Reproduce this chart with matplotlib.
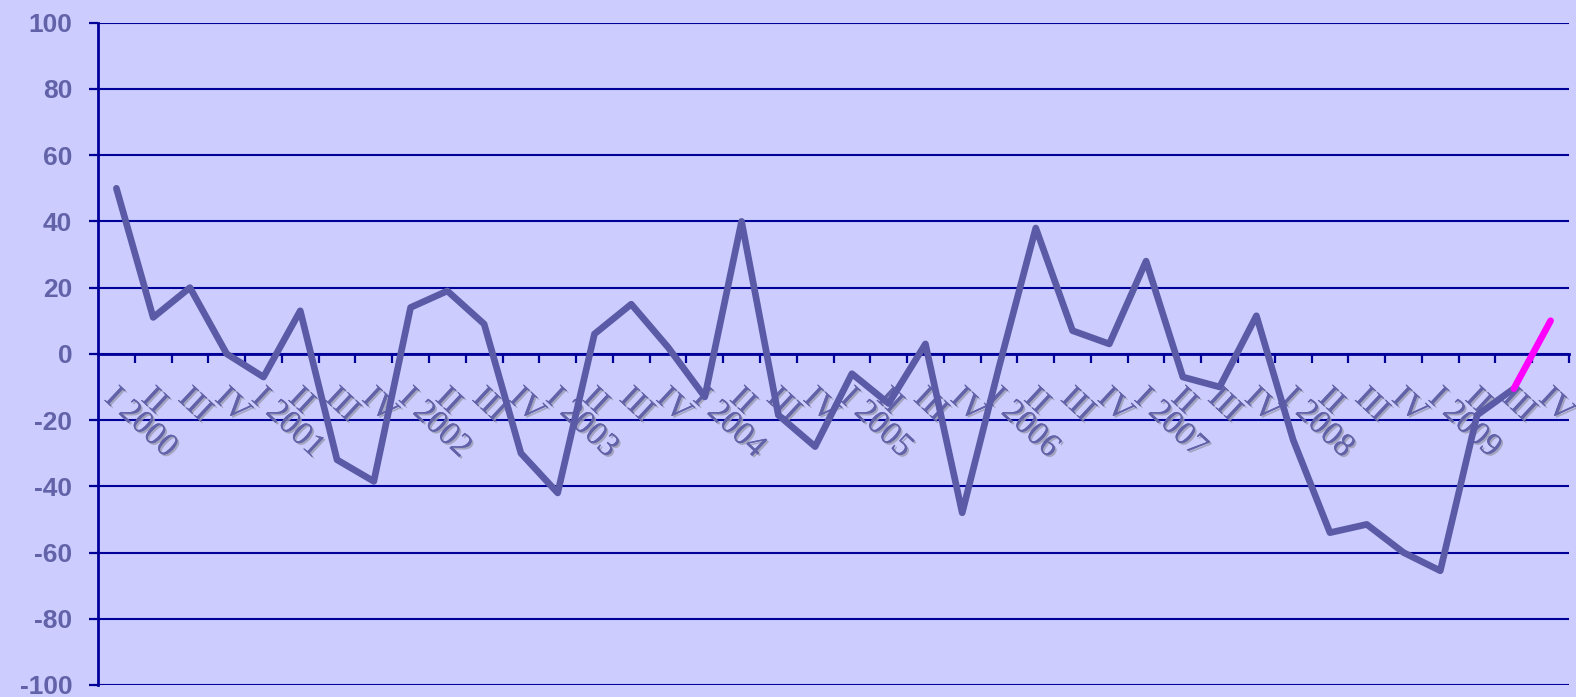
import numpy as np
import matplotlib.pyplot as plt
import matplotlib.patheffects as pe

plt.rcParams['axes.unicode_minus'] = False

# Datos trimestrales 2000-2009
years = [str(y) for y in range(2000, 2010)]
quarters = ['I', 'II', 'III', 'IV']
labels = [q + (' ' + y if q == 'I' else '') for y in years for q in quarters]

values = [50, 11, 20, 0,
          -7, 13, -32, -38.5,
          14, 19, 9, -30,
          -42, 6, 15, 2,
          -13, 40, -18.5, -28,
          -6, -15, 3, -48,
          -4, 38, 7, 3,
          28, -7, -10, 11.5,
          -26, -54, -51.5, -60,
          -65.5, -18.5, -10.5, 10]

bg = '#ccccff'
navy = '#000099'
linecol = '#5a5aa6'
txtcol = '#6262a8'

fig = plt.figure(figsize=(15.76, 6.97), dpi=100, facecolor=bg)
ax = fig.add_axes([98/1576, 12/697, 1471/1576, 662.3/697], facecolor=bg)

x = np.arange(len(values))
ax.plot(x[:-1], values[:-1], color=linecol, lw=4.8, solid_joinstyle='round', solid_capstyle='round', zorder=3)
ax.plot(x[-2:], values[-2:], color='#ff00ff', lw=4.8, solid_capstyle='round', zorder=4)

ax.set_xlim(-0.5, len(values) - 0.5)
ax.set_ylim(-100, 100)
ax.set_yticks(np.arange(-100, 101, 20))
ax.yaxis.grid(True, color=navy, lw=1.5)
ax.set_axisbelow(True)

for s in ['top', 'right']:
    ax.spines[s].set_visible(False)
ax.spines['left'].set_color(navy)
ax.spines['left'].set_linewidth(2)
ax.spines['bottom'].set_position(('data', 0))
ax.spines['bottom'].set_color(navy)
ax.spines['bottom'].set_linewidth(2)

ax.set_xticks(np.arange(0.5, len(values), 1))
ax.set_xticklabels([])
ax.tick_params(axis='x', direction='out', length=6.5, width=1.6, color=navy)
ax.tick_params(axis='y', direction='out', length=6.5, width=1.6, color=navy, pad=12,
               labelcolor=txtcol, labelsize=19)
for t in ax.get_yticklabels():
    t.set_fontfamily('Liberation Sans')
    t.set_fontweight('bold')

shadow = [pe.withSimplePatchShadow(offset=(1.3, -1.3), shadow_rgbFace='#9a9ab0', alpha=0.8), pe.Normal()]
for i, lab in enumerate(labels):
    ax.text(i - 0.2, -12, lab, rotation=-43, rotation_mode='anchor', ha='left', va='center',
            fontsize=24, family='Liberation Serif', color=txtcol, path_effects=shadow, zorder=2)

fig.savefig('out.png', dpi=100, facecolor=bg)
